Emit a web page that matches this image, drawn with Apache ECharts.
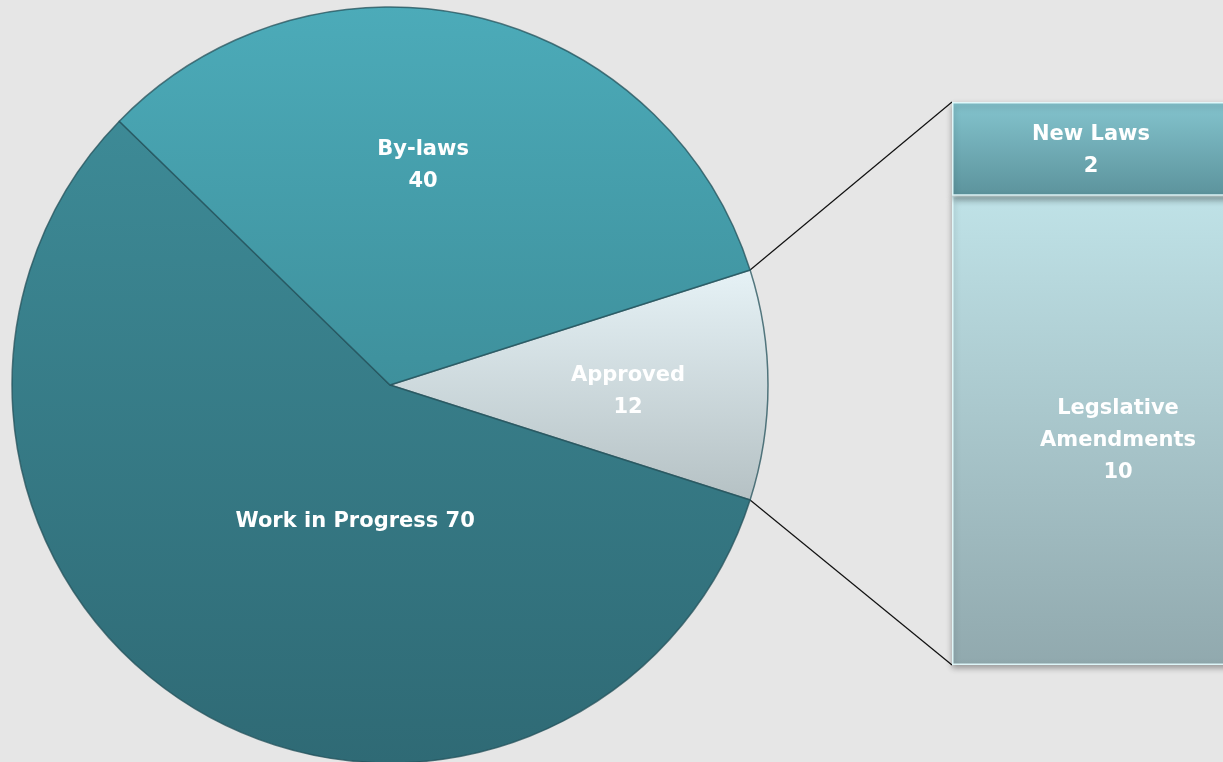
<!DOCTYPE html>
<html>
<head>
<meta charset="utf-8">
<title>Approved breakdown</title>
<script src="https://cdn.jsdelivr.net/npm/echarts@6/dist/echarts.min.js"></script>
<style>
  html, body { margin: 0; padding: 0; background: #e6e6e6; }
  #main { width: 1223px; height: 762px; }
</style>
</head>
<body>
<div id="main"></div>
<script>
// pie data (clockwise from the top edge of the "Approved" slice)
var pieNames = ['Approved', 'Work in Progress', 'By-laws'];
var pieValues = [12, 70, 40];

// breakdown of "Approved" shown as a stacked bar
var barNames = ['Legslative\nAmendments', 'New Laws'];
var barValues = [10, 2];

var FONT = '"DejaVu Sans", "Open Sans", sans-serif';
var pieCenter = [390, 385];
var pieRadius = 378;
var gridLeft = 952, gridTop = 102, gridHeight = 563, gridWidth = 332;

var total = pieValues.reduce(function (a, b) { return a + b; }, 0);
var approvedAngle = pieValues[0] / total * 360;
var startAngle = approvedAngle / 2;
var barTotal = barValues.reduce(function (a, b) { return a + b; }, 0);

function vgrad(top, bottom) {
    return new echarts.graphic.LinearGradient(0, 0, 0, 1, [
        { offset: 0, color: top },
        { offset: 1, color: bottom }
    ]);
}

var pieColors = [
    vgrad('#e6f2f6', '#b5c1c4'),
    vgrad('#3d8a96', '#2f6a75'),
    vgrad('#4cabb9', '#3e909c')
];
var pieLabelOffsets = [[46, 7], [64, -28], [-11, -33]];

var barColors = [
    vgrad('#bfe2e7', '#91a9ae'),
    vgrad('#84c4ce', '#5c939c')
];
var barLabelOffsets = [[0, 10], [-27, 2]];

var myChart = echarts.init(document.getElementById('main'));

var option = {
    backgroundColor: '#e6e6e6',
    animation: false,
    grid: {
        left: gridLeft, top: gridTop, height: gridHeight, width: gridWidth,
        outerBoundsMode: 'none'
    },
    xAxis: { type: 'category', data: ['Approved'], show: false },
    yAxis: { type: 'value', min: 0, max: barTotal, show: false },
    series: [
        {
            type: 'pie',
            center: pieCenter,
            radius: pieRadius,
            startAngle: startAngle,
            clockwise: true,
            avoidLabelOverlap: false,
            label: {
                position: 'inner',
                color: '#ffffff',
                fontFamily: FONT,
                fontWeight: 'bold',
                fontSize: 21,
                lineHeight: 32,
                align: 'center'
            },
            labelLine: { show: false },
            itemStyle: {
                borderColor: 'rgba(35,80,90,0.75)',
                borderWidth: 1.5
            },
            data: pieNames.map(function (n, i) {
                return {
                    name: n,
                    value: pieValues[i],
                    itemStyle: { color: pieColors[i] },
                    label: {
                        offset: pieLabelOffsets[i],
                        formatter: i === 1 ? '{b} {c}' : '{b}\n{c}'
                    }
                };
            })
        }
    ].concat(barNames.map(function (n, i) {
        return {
            type: 'bar',
            name: n,
            stack: 'approved',
            barWidth: '100%',
            data: [barValues[i]],
            itemStyle: {
                color: barColors[i],
                borderColor: 'rgba(225,250,252,0.95)',
                borderWidth: 1.5,
                shadowColor: 'rgba(0,0,0,0.35)',
                shadowBlur: 6,
                shadowOffsetY: 3
            },
            label: {
                show: true,
                position: 'inside',
                offset: barLabelOffsets[i],
                color: '#ffffff',
                fontFamily: FONT,
                fontWeight: 'bold',
                fontSize: 21,
                lineHeight: 32,
                align: 'center',
                formatter: n + '\n' + barValues[i]
            }
        };
    }))
};

myChart.setOption(option);

// connector lines from the Approved slice edges to the bar corners
var a = startAngle * Math.PI / 180;
var p1 = [pieCenter[0] + pieRadius * Math.cos(a), pieCenter[1] - pieRadius * Math.sin(a)];
var p2 = [pieCenter[0] + pieRadius * Math.cos(a), pieCenter[1] + pieRadius * Math.sin(a)];
var yTop = myChart.convertToPixel({ yAxisIndex: 0 }, barTotal);
var yBot = myChart.convertToPixel({ yAxisIndex: 0 }, 0);

myChart.setOption({
    graphic: [
        { type: 'line', z: 0, shape: { x1: p1[0], y1: p1[1], x2: gridLeft, y2: yTop }, style: { stroke: '#111', lineWidth: 1.2 } },
        { type: 'line', z: 0, shape: { x1: p2[0], y1: p2[1], x2: gridLeft, y2: yBot }, style: { stroke: '#111', lineWidth: 1.2 } }
    ]
});
</script>
</body>
</html>
